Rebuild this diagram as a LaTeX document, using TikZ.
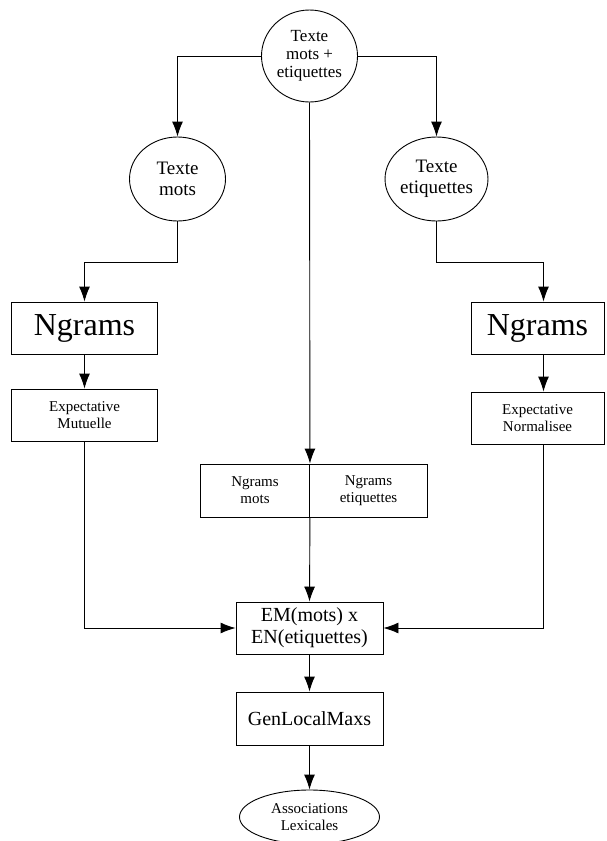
\documentclass[tikz,border=0pt]{standalone}
\usepackage{fontspec}
\setmainfont{Liberation Serif}
\newfontfamily\serifcorps{Liberation Serif}
\usepackage{tikz}
\usetikzlibrary{arrows.meta,shapes,positioning,calc}

\begin{document}
\begin{tikzpicture}[x=1pt, y=-1pt, line width=0.9pt,
    oval/.style={ellipse, draw, inner sep=0pt, align=center},
    boite/.style={rectangle, draw, inner sep=0pt, align=center},
    arr/.style={-{Latex[length=15pt,width=11pt]}}]
    \clip (0,0) rectangle (606,841);

    % Texte source
    \node[oval, minimum width=96, minimum height=92, font=\serifcorps\fontsize{17}{18}\selectfont] (top) at (309.5, 56) {Texte\\mots +\\etiquettes};

    % Branche mots
    \node[oval, minimum width=96, minimum height=84, font=\serifcorps\fontsize{19}{21}\selectfont] (tmots) at (177.5, 179) {Texte\\mots};
    \node[boite, minimum width=146, minimum height=52, font=\serifcorps\fontsize{32}{34}\selectfont] (ngl) at (84.5, 328) {Ngrams};
    \node[boite, minimum width=146, minimum height=52, font=\serifcorps\fontsize{15}{17}\selectfont] (expm) at (84.5, 415) {Expectative\\Mutuelle};

    % Branche etiquettes
    \node[oval, minimum width=94, minimum height=84, font=\serifcorps\fontsize{19}{21}\selectfont] (tetiq) at (436.5, 179) {Texte\\etiquettes};
    \node[boite, minimum width=133, minimum height=52, font=\serifcorps\fontsize{32}{34}\selectfont] (ngr) at (537.5, 328) {Ngrams};
    \node[boite, minimum width=133, minimum height=52, font=\serifcorps\fontsize{15}{17}\selectfont] (expn) at (537.5, 418) {Expectative\\Normalisee};

    % Ngrams du milieu
    \node[boite, minimum width=109, minimum height=53, font=\serifcorps\fontsize{15}{17}\selectfont] (ngmots) at (255, 490.5) {Ngrams\\mots};
    \node[boite, minimum width=118, minimum height=53, font=\serifcorps\fontsize{15}{17}\selectfont] (ngetiq) at (368.5, 490.5) {Ngrams\\etiquettes};

    % Combinaison
    \node[boite, minimum width=147, minimum height=52, font=\serifcorps\fontsize{20}{22}\selectfont] (em) at (309.5, 628) {EM(mots) x\\EN(etiquettes)};
    \node[boite, minimum width=147, minimum height=53, font=\serifcorps\fontsize{20}{22}\selectfont] (gen) at (309.5, 718.5) {GenLocalMaxs};
    \node[oval, minimum width=140, minimum height=54, font=\serifcorps\fontsize{15}{17}\selectfont] (assoc) at (309.5, 817) {Associations\\Lexicales};

    \draw[arr] (top.west) -| (tmots.north);
    \draw[arr] (top.east) -| (tetiq.north);
    \draw[arr] (top.south) -- (ngmots.north east);

    \draw[arr] (tmots.south) -- ++(0,41) -| (ngl.north);
    \draw[arr] (tetiq.south) -- ++(0,41) -| ([xshift=6pt]ngr.north);
    \draw[arr] (ngl) -- (expm);
    \draw[arr] ([xshift=6pt]ngr.south) -- ([xshift=6pt]expn.north);

    \draw[arr] (expm.south) |- (em.west);
    \draw[arr] ([xshift=6pt]expn.south) |- (em.east);
    \draw[arr] (ngmots.south east) -- (em.north);
    \draw[arr] (em) -- (gen);
    \draw[arr] (gen) -- (assoc);
\end{tikzpicture}
\end{document}
